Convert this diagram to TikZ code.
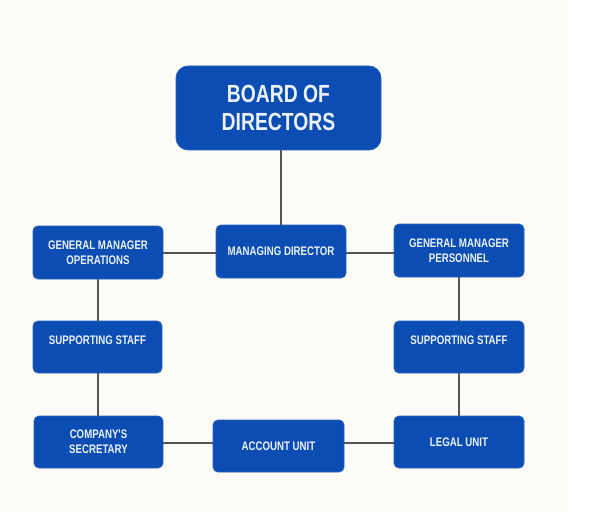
\documentclass[tikz,border=0pt]{standalone}
\usepackage{fontspec}
\newfontfamily\boxfont[FakeStretch=0.78]{Liberation Sans}
\definecolor{boxblue}{RGB}{11,77,178}
\definecolor{boxedge}{RGB}{40,100,190}
\definecolor{boxtext}{RGB}{236,242,250}
\definecolor{bgcol}{RGB}{252,251,245}
\definecolor{linecol}{RGB}{85,85,85}
\tikzset{
  orgbox/.style={draw=boxedge, line width=0.8pt, fill=boxblue, rounded corners=5pt,
    minimum width=130pt, minimum height=53pt, inner sep=0pt, align=center,
    text=boxtext, font=\boxfont\bfseries\fontsize{12.4}{15}\selectfont},
  bigbox/.style={orgbox, rounded corners=12pt, minimum width=205pt, minimum height=84pt,
    font=\boxfont\bfseries\fontsize{24.8}{28}\selectfont},
  link/.style={draw=linecol, line width=1.4pt}
}
\begin{document}
\begin{tikzpicture}[x=1pt,y=-1pt]
\useasboundingbox (0,0) rectangle (592,532);
\fill[white] (0,0) rectangle (592,532);
\fill[bgcol] (0,0) rectangle (568,512);
% nodes
\node[bigbox] (board) at (278.5,108) {BOARD OF\\DIRECTORS};
\node[orgbox] (gmo) at (98,252.5) {GENERAL MANAGER\\OPERATIONS};
\node[orgbox] (md) at (281,251.5) {MANAGING DIRECTOR};
\node[orgbox] (gmp) at (459,250.5) {GENERAL MANAGER\\PERSONNEL};
\node[orgbox, minimum width=129pt, minimum height=52pt] (ssl) at (97.5,347) {\raisebox{7pt}[\height][\depth]{SUPPORTING STAFF}};
\node[orgbox, minimum height=52pt] (ssr) at (459,347) {\raisebox{7pt}[\height][\depth]{SUPPORTING STAFF}};
\node[orgbox, minimum width=129pt, minimum height=52pt] (cs) at (98.5,442) {COMPANY'S\\SECRETARY};
\node[orgbox, minimum width=131pt, minimum height=52pt] (acc) at (278.5,446) {ACCOUNT UNIT};
\node[orgbox, minimum height=52pt] (legal) at (459,442) {LEGAL UNIT};
% connectors
\draw[link] (board.south -| md.north) -- (md.north);
\draw[link] (md.west |- 0,253) -- (gmo.east |- 0,253);
\draw[link] (md.east |- 0,253) -- (gmp.west |- 0,253);
\draw[link] (gmo.south) -- (ssl.north -| gmo.south);
\draw[link] (ssl.south -| gmo.south) -- (cs.north -| gmo.south);
\draw[link] (gmp.south) -- (ssr.north);
\draw[link] (ssr.south) -- (legal.north);
\draw[link] (cs.east |- 0,443) -- (acc.west |- 0,443);
\draw[link] (acc.east |- 0,443) -- (legal.west |- 0,443);
\end{tikzpicture}
\end{document}
